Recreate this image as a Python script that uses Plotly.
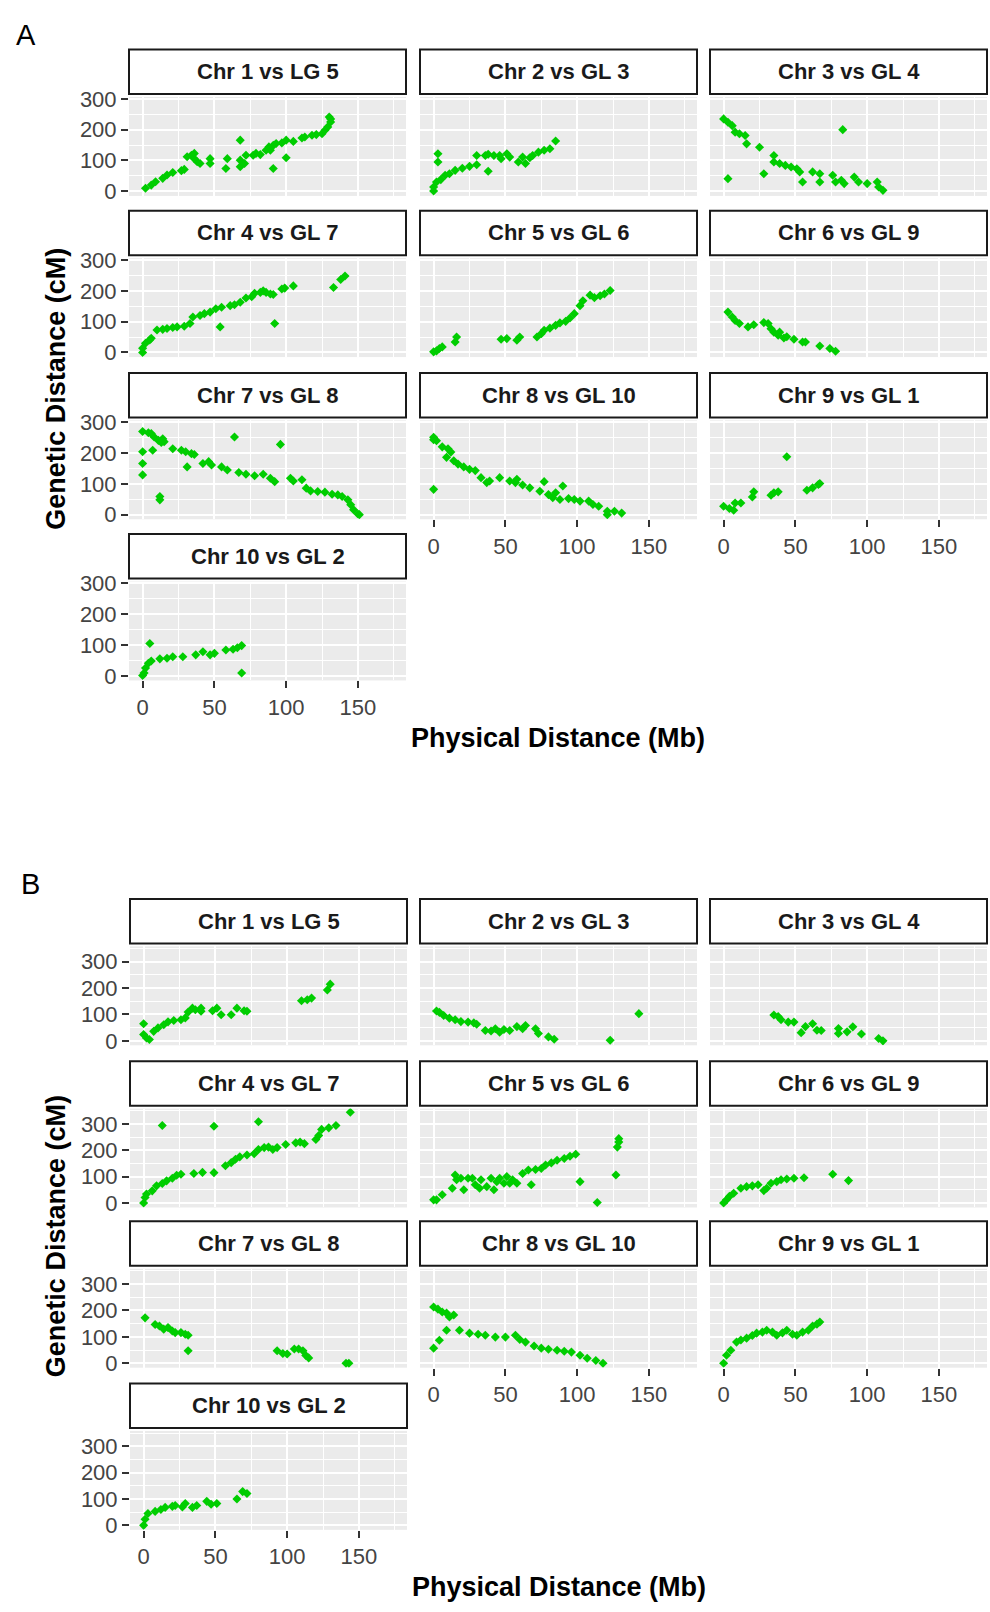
import plotly.graph_objects as go

W, H = 990, 1612

PANEL_TITLES = ["Chr 1 vs LG 5", "Chr 2 vs GL 3", "Chr 3 vs GL 4", "Chr 4 vs GL 7", "Chr 5 vs GL 6",
                "Chr 6 vs GL 9", "Chr 7 vs GL 8", "Chr 8 vs GL 10", "Chr 9 vs GL 1", "Chr 10 vs GL 2"]
SECTION_LABELS = ["A", "B"]
X_TICKS = [0, 50, 100, 150]
X_MINOR = [25, 75, 125, 175]
Y_TICKS = [0, 100, 200, 300]
Y_MINOR = [50, 150, 250, 350]
X_TITLE = "Physical Distance (Mb)"
Y_TITLE = "Genetic Distance (cM)"

# ---------------- Section A ----------------
A1_X = [2, 6, 9, 14, 17, 21, 27, 29, 31, 34, 36, 38, 40, 36, 47, 47, 58, 59, 68, 68, 68, 71, 72, 77, 79, 82, 86, 88, 89,
        91, 93, 97, 91, 100, 100, 105, 111, 113, 118, 121, 125, 127, 129, 131, 131, 130]
A1_Y = [10, 20, 31, 42, 53, 61, 67, 71, 112, 117, 106, 96, 90, 123, 106, 90, 74, 106, 166, 80, 101, 90, 117, 117, 123,
        119, 133, 144, 133, 149, 155, 157, 74, 109, 166, 162, 173, 176, 182, 184, 187, 198, 209, 225, 235, 241]
A2_X = [0, 0, 2, 5, 3, 3, 8, 11, 15, 20, 25, 30, 30, 36, 38, 42, 46, 47, 51, 53, 38, 59, 62, 64, 67, 69, 73, 77, 81, 85]
A2_Y = [1, 14, 30, 38, 122, 95, 52, 57, 68, 75, 81, 86, 116, 116, 120, 116, 116, 106, 122, 111, 65, 95, 111, 90, 109,
        116, 127, 133, 138, 163]
A3_X = [0, 3, 6, 8, 11, 15, 16, 3, 25, 28, 35, 35, 39, 43, 47, 51, 53, 55, 62, 67, 67, 76, 78, 82, 84, 83, 91, 94, 100,
        107, 108, 111]
A3_Y = [235, 224, 213, 192, 187, 181, 154, 41, 143, 57, 116, 95, 90, 84, 79, 73, 63, 30, 63, 57, 30, 52, 30, 36, 25, 200,
        46, 30, 25, 30, 14, 3]
A4_X = [0, 0, 2, 5, 6, 10, 14, 17, 21, 24, 29, 33, 35, 40, 43, 47, 51, 55, 54, 61, 64, 68, 72, 76, 78, 82, 84, 86, 89,
        91, 92, 97, 99, 105, 133, 138, 141]
A4_Y = [0, 14, 30, 41, 46, 73, 75, 78, 81, 83, 85, 94, 115, 120, 126, 131, 142, 147, 83, 152, 155, 163, 177, 181, 192,
        195, 200, 195, 190, 188, 94, 206, 209, 216, 211, 237, 248]
A5_X = [0, 2, 4, 6, 15, 16, 47, 51, 58, 60, 72, 75, 77, 81, 85, 88, 92, 95, 98, 102, 104, 109, 112, 116, 119, 123]
A5_Y = [2, 5, 13, 18, 34, 50, 43, 45, 40, 50, 50, 61, 72, 79, 88, 96, 101, 112, 126, 152, 168, 186, 178, 184, 190, 201]
A6_X = [3, 6, 8, 11, 17, 21, 28, 31, 33, 35, 38, 39, 42, 44, 49, 55, 57, 67, 74, 78]
A6_Y = [131, 115, 104, 94, 83, 90, 97, 94, 77, 66, 56, 66, 47, 51, 43, 34, 34, 21, 13, 4]
A7_X = [0, 0, 0, 0, 4, 6, 8, 11, 13, 7, 14, 15, 12, 12, 21, 27, 30, 34, 36, 31, 42, 46, 48, 55, 59, 64, 67, 72, 78, 84,
        89, 92, 96, 103, 105, 111, 114, 117, 122, 127, 132, 136, 139, 143, 145, 147, 150, 151]
A7_Y = [129, 166, 204, 270, 266, 263, 252, 241, 234, 209, 246, 237, 59, 48, 214, 209, 204, 198, 195, 155, 166, 172, 161,
        155, 145, 252, 137, 131, 126, 131, 118, 107, 228, 118, 109, 113, 86, 77, 75, 73, 66, 64, 59, 48, 32, 16, 2, 0]
A8_X = [0, 0, 2, 0, 6, 10, 12, 9, 14, 17, 21, 25, 29, 33, 37, 39, 46, 53, 58, 57, 62, 67, 74, 77, 80, 83, 85, 90, 88,
        94, 98, 102, 108, 111, 115, 121, 121, 126, 131]
A8_Y = [251, 243, 240, 82, 220, 214, 203, 186, 175, 164, 155, 147, 143, 120, 104, 109, 120, 109, 115, 104, 96, 87, 76,
        107, 65, 55, 71, 93, 49, 52, 49, 44, 44, 33, 27, 11, 0, 11, 5]
A9_X = [0, 4, 7, 8, 12, 20, 21, 33, 35, 38, 44, 58, 62, 66, 67]
A9_Y = [27, 20, 14, 38, 38, 57, 74, 63, 71, 74, 188, 79, 87, 98, 101]
A10_X = [0, 1, 2, 4, 6, 5, 12, 17, 21, 28, 37, 42, 47, 50, 58, 63, 66, 69, 69]
A10_Y = [1, 9, 25, 41, 48, 105, 55, 57, 62, 62, 68, 78, 68, 73, 84, 86, 91, 98, 9]

# ---------------- Section B ----------------
B1_X = [0, 0, 2, 4, 7, 10, 14, 17, 21, 26, 29, 31, 34, 36, 40, 40, 48, 51, 54, 61, 65, 70, 72, 110, 114, 117, 128, 130]
B1_Y = [65, 24, 11, 5, 36, 49, 61, 72, 77, 80, 87, 109, 124, 118, 124, 112, 114, 124, 99, 99, 124, 114, 112, 152, 156,
        162, 193, 215]
B2_X = [2, 4, 7, 11, 15, 19, 24, 28, 30, 36, 40, 43, 46, 49, 53, 58, 62, 64, 71, 73, 80, 84, 123, 143]
B2_Y = [113, 108, 96, 86, 80, 73, 71, 68, 63, 39, 37, 46, 33, 43, 39, 54, 46, 58, 46, 28, 15, 6, 2, 103]
B3_X = [35, 38, 40, 45, 49, 54, 57, 62, 65, 68, 80, 80, 86, 90, 96, 108, 111]
B3_Y = [98, 92, 80, 71, 71, 31, 54, 65, 40, 39, 47, 28, 34, 53, 26, 9, 0]
B4_X = [0, 1, 2, 6, 9, 13, 16, 20, 23, 26, 13, 35, 41, 49, 49, 57, 61, 64, 67, 72, 77, 80, 80, 84, 87, 90, 93, 99, 106,
        109, 112, 120, 122, 124, 129, 134, 144]
B4_Y = [0, 21, 34, 46, 65, 74, 84, 94, 105, 109, 294, 112, 116, 291, 115, 141, 153, 166, 175, 182, 187, 308, 203, 210,
        212, 203, 210, 222, 228, 231, 225, 241, 256, 279, 285, 294, 344]
B5_X = [0, 2, 6, 13, 15, 16, 19, 21, 24, 27, 29, 32, 33, 37, 40, 42, 44, 46, 49, 51, 53, 55, 58, 62, 66, 68, 71, 75, 78,
        82, 86, 91, 95, 99, 102, 114, 127, 128, 129, 129]
B5_Y = [12, 12, 31, 56, 106, 88, 94, 50, 94, 94, 69, 56, 88, 62, 94, 50, 81, 94, 75, 100, 75, 88, 75, 112, 125, 69, 127,
        131, 144, 152, 162, 169, 177, 185, 81, 2, 106, 212, 231, 244]
B6_X = [0, 2, 4, 7, 12, 16, 20, 24, 28, 30, 33, 37, 40, 44, 49, 56, 76, 87]
B6_Y = [0, 12, 25, 37, 56, 62, 65, 69, 47, 56, 75, 81, 88, 91, 94, 96, 109, 85]
B7_X = [1, 8, 11, 14, 17, 20, 22, 26, 29, 31, 31, 93, 97, 100, 105, 108, 111, 113, 115, 141, 143]
B7_Y = [172, 147, 141, 129, 135, 122, 116, 116, 110, 106, 47, 47, 37, 35, 54, 54, 47, 29, 20, 0, 0]
B8_X = [0, 3, 6, 9, 11, 14, 4, 0, 9, 18, 25, 31, 36, 43, 50, 57, 60, 64, 70, 75, 80, 86, 91, 96, 102, 107, 113, 118]
B8_Y = [213, 205, 194, 190, 175, 183, 87, 57, 125, 125, 114, 110, 106, 99, 99, 106, 90, 80, 65, 57, 53, 49, 45, 42, 30,
        19, 10, 0]
B9_X = [0, 2, 5, 9, 12, 16, 20, 23, 27, 30, 34, 37, 41, 44, 48, 51, 55, 59, 62, 65, 67]
B9_Y = [0, 30, 49, 80, 88, 95, 105, 114, 118, 125, 118, 106, 115, 125, 110, 106, 118, 125, 141, 148, 156]
B10_X = [0, 1, 3, 8, 12, 15, 20, 22, 27, 29, 34, 37, 44, 47, 51, 65, 69, 72]
B10_Y = [0, 23, 45, 53, 60, 68, 72, 75, 70, 83, 68, 75, 91, 80, 83, 100, 128, 121]

SECTION_DATA = [
    [(A1_X, A1_Y), (A2_X, A2_Y), (A3_X, A3_Y), (A4_X, A4_Y), (A5_X, A5_Y),
     (A6_X, A6_Y), (A7_X, A7_Y), (A8_X, A8_Y), (A9_X, A9_Y), (A10_X, A10_Y)],
    [(B1_X, B1_Y), (B2_X, B2_Y), (B3_X, B3_Y), (B4_X, B4_Y), (B5_X, B5_Y),
     (B6_X, B6_Y), (B7_X, B7_Y), (B8_X, B8_Y), (B9_X, B9_Y), (B10_X, B10_Y)],
]

# ---------------- layout geometry (pixels) ----------------
COL_LEFT = [[129, 420, 710], [130, 420, 710]]
PANEL_W = 277
ROW_TOP = [[40, 203, 367, 530], [899, 1063, 1225, 1389]]
STRIP_H = 45
PANEL_OFF = 48
PANEL_H = 100
X_RANGE = [-9.5, 183.5]
Y_RANGES = [[-15, 306], [-17, 358]]
SECTION_LABEL_POS = [(26, 25), (30, 884)]
X_TITLE_Y = [736, 1595]
Y_TITLE_CY = [383, 1240]

GREEN = "#00CD00"
TICK_FONT = dict(family="Liberation Sans, Arial, sans-serif", size=22, color="#444444")

def px(x):
    return x / W

def py(y):
    return 1 - y / H

fig = go.Figure()
layout = dict(
    width=W, height=H, autosize=False,
    margin=dict(l=0, r=0, t=0, b=0),
    paper_bgcolor="white", plot_bgcolor="#EBEBEB",
    showlegend=False,
    font=dict(family="Liberation Sans, Arial, sans-serif"),
)
shapes = []
annotations = []

n = 0
for s in range(2):
    for k in range(10):
        n += 1
        row, col = divmod(k, 3)
        left = COL_LEFT[s][col]
        stop = ROW_TOP[s][row]
        ptop = stop + PANEL_OFF
        xs, ys = SECTION_DATA[s][k]
        xa = "x" if n == 1 else f"x{n}"
        ya = "y" if n == 1 else f"y{n}"
        fig.add_trace(go.Scatter(
            x=xs, y=ys, mode="markers", xaxis=xa, yaxis=ya,
            marker=dict(symbol="diamond", size=7, color=GREEN, line=dict(width=0)),
            hoverinfo="x+y",
        ))
        show_x = (row == 3) or (row == 2 and col > 0)
        show_y = (col == 0)
        xkey = "xaxis" if n == 1 else f"xaxis{n}"
        ykey = "yaxis" if n == 1 else f"yaxis{n}"
        layout[xkey] = dict(
            domain=[px(left), px(left + PANEL_W)], anchor=ya, range=X_RANGE,
            tickvals=X_TICKS, showticklabels=show_x, ticks="outside" if show_x else "",
            ticklen=7, tickwidth=1.5, tickcolor="#333333", tickfont=TICK_FONT,
            showgrid=True, gridcolor="white", gridwidth=2.4, zeroline=False, showline=False,
            minor=dict(tickvals=X_MINOR, showgrid=True, gridcolor="white", gridwidth=1.1),
            fixedrange=True,
        )
        layout[ykey] = dict(
            domain=[py(ptop + PANEL_H), py(ptop)], anchor=xa, range=Y_RANGES[s],
            tickvals=Y_TICKS, showticklabels=show_y, ticks="outside" if show_y else "",
            ticklen=7, tickwidth=1.5, tickcolor="#333333", tickfont=TICK_FONT,
            showgrid=True, gridcolor="white", gridwidth=2.4, zeroline=False, showline=False,
            minor=dict(tickvals=Y_MINOR, showgrid=True, gridcolor="white", gridwidth=1.1),
            fixedrange=True,
        )
        # strip
        shapes.append(dict(type="rect", xref="paper", yref="paper",
                           x0=px(left), x1=px(left + PANEL_W), y0=py(stop + STRIP_H), y1=py(stop),
                           fillcolor="white", line=dict(color="#1A1A1A", width=2), layer="above"))
        annotations.append(dict(xref="paper", yref="paper", x=px(left + PANEL_W / 2), y=py(stop + STRIP_H / 2),
                                text=f"<b>{PANEL_TITLES[k]}</b>", showarrow=False, xanchor="center", yanchor="middle",
                                font=dict(family="Liberation Sans, Arial, sans-serif", size=22, color="#1A1A1A")))
    # section label
    lx, ly = SECTION_LABEL_POS[s]
    annotations.append(dict(xref="paper", yref="paper", x=px(lx), y=py(ly), text=SECTION_LABELS[s], showarrow=False,
                            xanchor="center", yanchor="middle",
                            font=dict(family="Liberation Sans, Arial, sans-serif", size=29, color="black")))
    # axis titles
    cx = (COL_LEFT[s][0] + COL_LEFT[s][2] + PANEL_W) / 2
    annotations.append(dict(xref="paper", yref="paper", x=px(cx), y=py(X_TITLE_Y[s]), text=f"<b>{X_TITLE}</b>",
                            showarrow=False, xanchor="center", yanchor="middle",
                            font=dict(family="Liberation Sans, Arial, sans-serif", size=27, color="black")))
    annotations.append(dict(xref="paper", yref="paper", x=px(56), y=py(Y_TITLE_CY[s]), text=f"<b>{Y_TITLE}</b>",
                            showarrow=False, xanchor="center", yanchor="middle", textangle=-90,
                            font=dict(family="Liberation Sans, Arial, sans-serif", size=27, color="black")))

layout["shapes"] = shapes
layout["annotations"] = annotations
fig.update_layout(**layout)
fig.write_html("out.html")
